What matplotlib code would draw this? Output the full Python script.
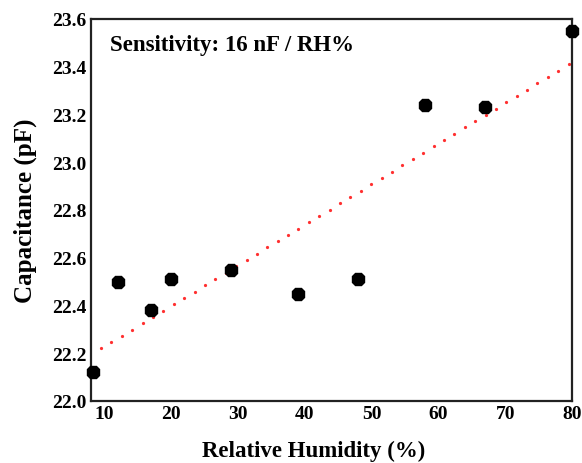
import numpy as np
import matplotlib
matplotlib.use("Agg")
import matplotlib.pyplot as plt

# measured capacitance vs relative humidity
humidity = [8.3, 12, 17, 20, 29, 39, 48, 58, 67, 80]
capacitance = [22.12, 22.50, 22.38, 22.51, 22.55, 22.45, 22.51, 23.24, 23.23, 23.55]

# linear trend line end points
fit_x = [9.5, 79.5]
fit_y = [22.22, 23.41]

x_ticks = [10, 20, 30, 40, 50, 60, 70, 80]
y_ticks = [22.0, 22.2, 22.4, 22.6, 22.8, 23.0, 23.2, 23.4, 23.6]

plt.rcParams['font.family'] = ['Liberation Serif', 'DejaVu Serif']
plt.rcParams['font.weight'] = 'bold'

fig = plt.figure(figsize=(5.82, 4.64), dpi=100)
ax = fig.add_axes([91 / 582, 62 / 464, 481 / 582, 382 / 464])

# trend line drawn as a dense line of small red dots
tx = np.linspace(fit_x[0], fit_x[1], 46)
ty = np.interp(tx, fit_x, fit_y)
ax.plot(tx, ty, linestyle='none', marker='o', markersize=1.3, color='#ff3030')

ax.plot(humidity, capacitance, linestyle='none', marker='8', markersize=10,
        color='black', clip_on=False, zorder=3)

ax.set_xlim(8, 80)
ax.set_ylim(22.0, 23.6)
ax.set_xticks(x_ticks)
ax.set_yticks(y_ticks)
ax.set_yticklabels(['%.1f' % v for v in y_ticks])
ax.tick_params(length=0, labelsize=14, pad=3)
for lab in ax.get_xticklabels() + ax.get_yticklabels():
    lab.set_fontweight('bold')
for s in ax.spines.values():
    s.set_linewidth(1.6)
    s.set_color('#222222')

ax.set_xlabel('Relative Humidity (%)', fontsize=16.5, fontweight='bold', va='center')
ax.set_ylabel('Capacitance (pF)', fontsize=18, fontweight='bold', va='center')
ax.xaxis.set_label_coords((314 - 91) / 481, -49 / 382)
ax.yaxis.set_label_coords(-66 / 481, 0.5)

ax.text(19 / 481, 1 - 26 / 382, 'Sensitivity: 16 nF / RH%', transform=ax.transAxes,
        fontsize=16.5, fontweight='bold', va='center', ha='left')

fig.savefig('out.png', dpi=100)
